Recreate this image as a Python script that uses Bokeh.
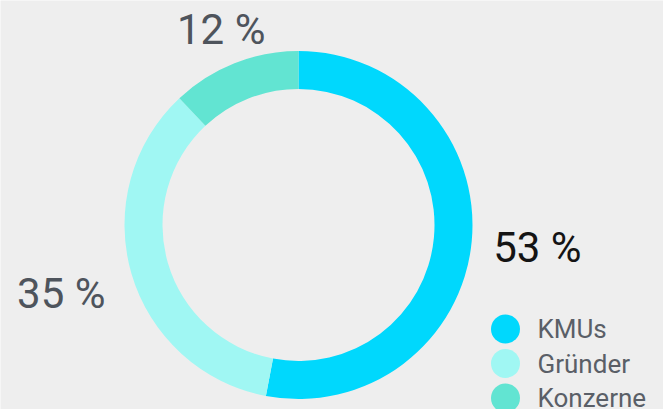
import math
from bokeh.plotting import figure
from bokeh.models import Range1d, ColumnDataSource
from bokeh.core.properties import value
from bokeh.embed import file_html
from bokeh.resources import INLINE

# ---- data ----
categories = ["KMUs", "Gründer", "Konzerne"]
shares = [53, 35, 12]
pct_labels = ["53 %", "35 %", "12 %"]
colors = ["#00D8FD", "#A0F7F3", "#62E4D2"]
label_colors = ["#141414", "#4E545C", "#4E545C"]

# ---- layout ----
W, H = 663, 409
cx, cy = 298, H - 224.5
r_in, r_out = 136, 174
label_r = [240, 247, 210]

total = float(sum(shares))
starts, ends, lx, ly = [], [], [], []
acc = 0.0
for s, lr in zip(shares, label_r):
    a0 = math.pi / 2 - acc / total * 2 * math.pi
    a1 = math.pi / 2 - (acc + s) / total * 2 * math.pi
    starts.append(a0)
    ends.append(a1)
    mid = (a0 + a1) / 2
    lx.append(cx + lr * math.cos(mid))
    ly.append(cy + lr * math.sin(mid))
    acc += s

src = ColumnDataSource(dict(cat=categories, start=starts, end=ends, color=colors,
                            lab=pct_labels, lx=lx, ly=ly, lcol=label_colors))

p = figure(width=W, height=H, output_backend="svg", toolbar_location=None,
           x_range=Range1d(0, W), y_range=Range1d(0, H),
           min_border=0, min_border_left=0, min_border_right=0,
           min_border_top=0, min_border_bottom=0)
p.axis.visible = False
p.grid.visible = False
p.outline_line_color = None
p.background_fill_color = "#EEEEEE"
p.border_fill_color = "#EEEEEE"

p.annular_wedge(x=cx, y=cy, inner_radius=r_in, outer_radius=r_out,
                start_angle="start", end_angle="end", direction="clock",
                fill_color="color", line_color=None, source=src)

p.text(x="lx", y="ly", text="lab", text_color="lcol", source=src,
       text_font=value("Roboto"), text_font_size="42px",
       text_align="center", text_baseline="middle")

# legend
leg_x, leg_y0, leg_dy = 505, H - 328.5, 34.5
leg_src = ColumnDataSource(dict(
    x=[leg_x] * len(categories),
    y=[leg_y0 - i * leg_dy for i in range(len(categories))],
    tx=[leg_x + 32] * len(categories),
    cat=categories, color=colors))
p.scatter(x="x", y="y", size=29, marker="circle", fill_color="color",
          line_color=None, source=leg_src)
p.text(x="tx", y="y", text="cat", source=leg_src, text_color="#5A5F67",
       text_font=value("Roboto"), text_font_size="26px",
       text_align="left", text_baseline="middle")

open("out.html", "w").write(file_html(p, INLINE))
